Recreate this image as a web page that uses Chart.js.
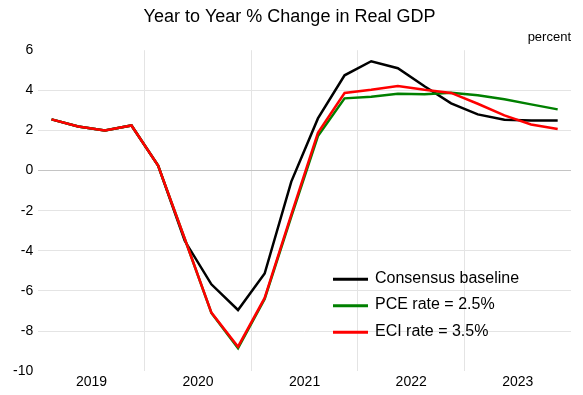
<!DOCTYPE html>
<html>
<head>
<meta charset="utf-8">
<script src="https://cdn.jsdelivr.net/npm/chart.js@4"></script>
<style>
  html, body { margin: 0; padding: 0; background: #fff; }
  #wrap { width: 583px; height: 395px; }
</style>
</head>
<body>
<div id="wrap"><canvas id="gdpChart"></canvas></div>
<script>
// year labels for the axis, quarters are what the data is indexed by
const years = ['2019', '2020', '2021', '2022', '2023'];
const quarters = years.flatMap(y => ['Q1', 'Q2', 'Q3', 'Q4'].map(q => y + ' ' + q));

const consensus = [2.55, 2.2, 2.0, 2.25, 0.25, -3.5, -5.67, -6.95, -5.13, -0.55, 2.6, 4.75, 5.45, 5.1, 4.2, 3.35, 2.8, 2.53, 2.5, 2.5];
const pceRate   = [2.55, 2.2, 2.0, 2.25, 0.25, -3.4, -7.1, -8.85, -6.4, -2.3, 1.72, 3.6, 3.68, 3.83, 3.8, 3.88, 3.75, 3.55, 3.3, 3.05];
const eciRate   = [2.55, 2.2, 2.0, 2.25, 0.25, -3.4, -7.08, -8.78, -6.35, -2.2, 1.88, 3.87, 4.03, 4.22, 4.03, 3.87, 3.33, 2.75, 2.3, 2.07];

const FONT = '"Liberation Sans", Arial, sans-serif';
Chart.defaults.font.family = FONT;
Chart.defaults.color = '#000';

// legend drawn inside the plot, lower right
const lineLegend = {
  id: 'lineLegend',
  afterDraw(chart) {
    const { ctx, chartArea } = chart;
    const x = chartArea.right - 238;
    let y = chartArea.bottom - 93;
    ctx.save();
    ctx.font = '16px ' + FONT;
    ctx.textBaseline = 'middle';
    chart.data.datasets.forEach(ds => {
      ctx.strokeStyle = ds.borderColor;
      ctx.lineWidth = 3;
      ctx.beginPath();
      ctx.moveTo(x, y + 1);
      ctx.lineTo(x + 35, y + 1);
      ctx.stroke();
      ctx.fillStyle = '#000';
      ctx.fillText(ds.label, x + 42, y);
      y += 26.5;
    });
    ctx.restore();
  }
};

new Chart(document.getElementById('gdpChart'), {
  type: 'line',
  data: {
    labels: quarters,
    datasets: [
      { label: 'Consensus baseline', data: consensus, borderColor: '#000000', order: 2 },
      { label: 'PCE rate = 2.5%', data: pceRate, borderColor: '#008000', order: 1 },
      { label: 'ECI rate = 3.5%', data: eciRate, borderColor: '#ff0000', order: 0 }
    ]
  },
  options: {
    responsive: true,
    maintainAspectRatio: false,
    animation: false,
    elements: {
      line: { borderWidth: 2.5, tension: 0 },
      point: { radius: 0 }
    },
    layout: { padding: { left: 8, right: 12, top: 0, bottom: 1 } },
    scales: {
      x: {
        offset: true,
        border: { display: false },
        grid: {
          offset: true,
          drawTicks: false,
          color: ctx => (ctx.index > 0 && ctx.index % 4 === 0) ? '#e4e4e4' : 'transparent'
        },
        ticks: { display: false }
      },
      years: {
        type: 'category',
        position: 'bottom',
        labels: years,
        offset: true,
        border: { display: false },
        grid: { display: false, drawTicks: false },
        ticks: { font: { size: 14 }, padding: 3, maxRotation: 0 }
      },
      y: {
        min: -10,
        max: 6,
        border: { display: false },
        grid: {
          drawTicks: false,
          color: ctx => {
            const v = ctx.tick ? ctx.tick.value : null;
            if (v === 0) return '#c4c4c4';
            if (v === 6 || v === -10) return 'transparent';
            return '#e4e4e4';
          }
        },
        ticks: { stepSize: 2, font: { size: 14 }, padding: 5 }
      }
    },
    plugins: {
      legend: { display: false },
      tooltip: { enabled: false },
      title: {
        display: true,
        text: 'Year to Year % Change in Real GDP',
        font: { size: 18, weight: 'normal' },
        padding: { top: 6, bottom: 2 }
      },
      subtitle: {
        display: true,
        text: 'percent',
        align: 'end',
        font: { size: 13 },
        padding: { top: 0, bottom: 5 }
      }
    }
  },
  plugins: [lineLegend]
});
</script>
</body>
</html>
